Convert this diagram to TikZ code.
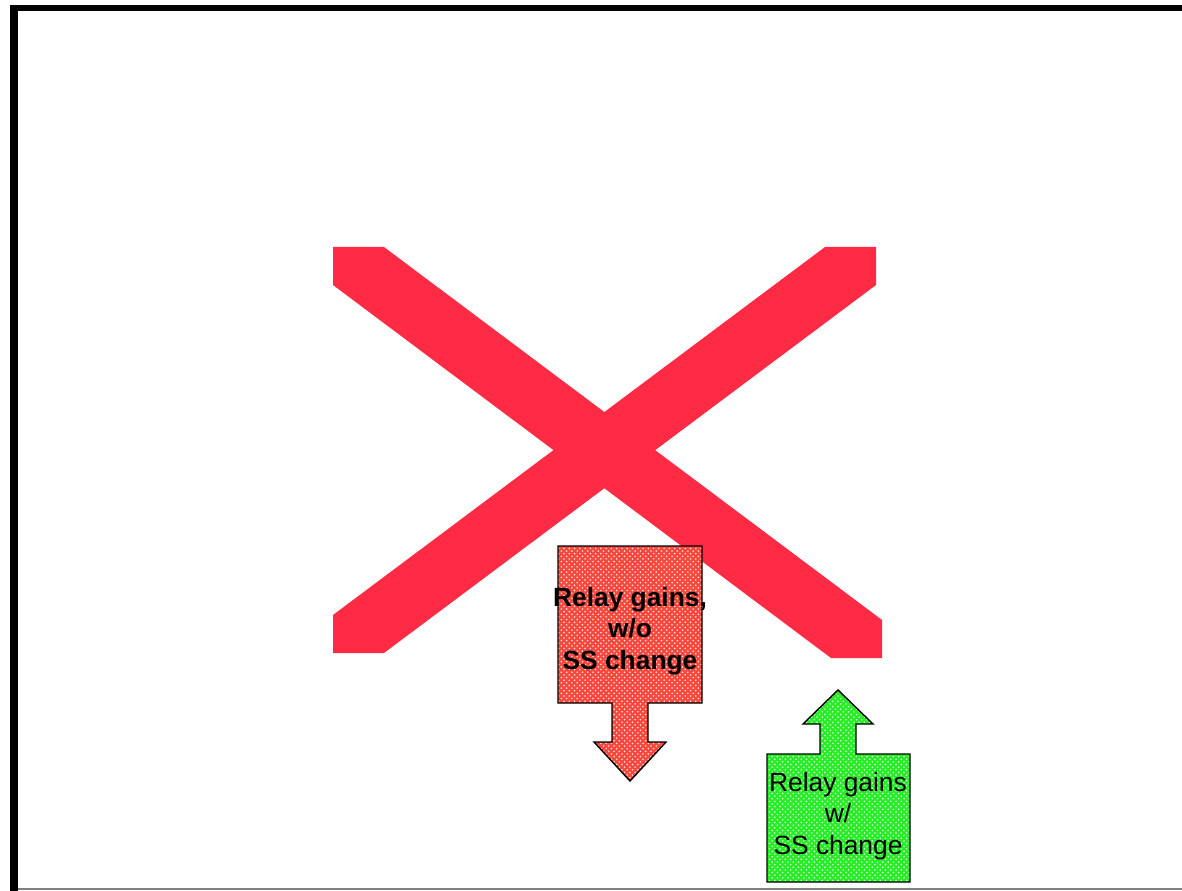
\documentclass[tikz,border=0pt]{standalone}
\usepackage{fontspec}
\setmainfont{Liberation Sans}
\usetikzlibrary{patterns}
\definecolor{crossred}{RGB}{255,42,68}
\definecolor{boxred}{RGB}{246,72,60}
\definecolor{boxgreen}{RGB}{40,236,40}

\begin{document}
\begin{tikzpicture}[x=0.02cm,y=-0.02cm,line width=0.8pt]
\tikzstyle{bar} = [fill=crossred]
\tikzstyle{redarrow} = [preaction={fill=boxred}, preaction={pattern=crosshatch dots, pattern color=white!85!boxred}, draw]
\tikzstyle{greenarrow} = [preaction={fill=boxgreen}, preaction={pattern=crosshatch dots, pattern color=white!85!boxgreen}, draw]
\tikzstyle{label} = [align=center, inner sep=0pt, font=\fontsize{15}{18}\selectfont]

\useasboundingbox (0,0) rectangle (1182,891);

% Frame
\draw[line width=4.5pt] (14,5) -- (14,891);
\draw[line width=3.4pt] (10,8) -- (1182,8);
\draw[gray, line width=0.6pt] (18,889) -- (1182,889);

% Cross
\path[bar] (333,247) -- (384,247) -- (882,620) -- (882,658) -- (831,658) -- (333,285) -- cycle;
\path[bar] (825,247) -- (876,247) -- (876,285) -- (384,653) -- (333,653) -- (333,615) -- cycle;

% Down arrow
\draw[redarrow] (558,546) -- (702,546) -- (702,703) -- (648,703) -- (648,742) -- (666,742)
  -- (630,781) -- (594,742) -- (612,742) -- (612,703) -- (558,703) -- cycle;
\node[label, font=\bfseries\fontsize{15}{18}\selectfont] (relaywo) at (630,631) {Relay gains,\\w/o\\SS change};

% Up arrow
\draw[greenarrow] (767,882) -- (767,754) -- (820,754) -- (820,724) -- (803,724) -- (838,690)
  -- (873,724) -- (856,724) -- (856,754) -- (910,754) -- (910,882) -- cycle;
\node[label] (relayw) at (838,816) {Relay gains\\w/\\SS change};

\end{tikzpicture}
\end{document}
